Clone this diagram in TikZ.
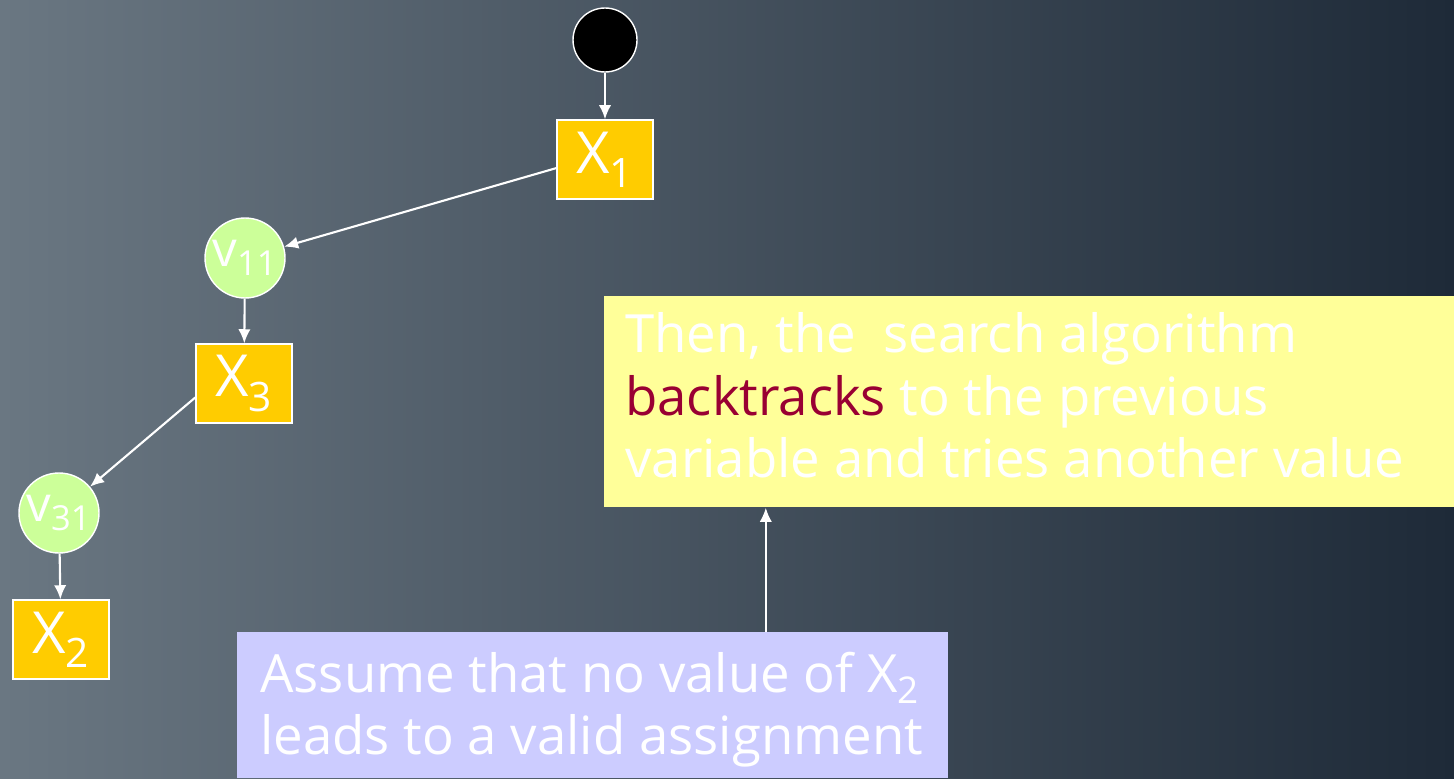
\documentclass[tikz,border=0pt]{standalone}
\usepackage{fontspec}
\setmainfont{Open Sans}
\usetikzlibrary{calc, arrows.meta}
\definecolor{slatelight}{HTML}{6A7782}
\definecolor{slatemid}{HTML}{56636E}
\definecolor{slatedark}{HTML}{1E2A38}
\definecolor{tangerine}{HTML}{FFCC00}
\definecolor{mintgreen}{HTML}{CCFF99}
\definecolor{paleyellow}{HTML}{FFFF99}
\definecolor{lavender}{HTML}{CCCCFF}
\definecolor{claret}{HTML}{990033}

\begin{document}
\begin{tikzpicture}[
            var/.style = {rectangle, draw=white, thick, fill=tangerine, text=white,
                          minimum width=1.92cm, minimum height=1.58cm, font=\fontsize{33}{35}\selectfont},
            val/.style = {circle, draw=white, thick, fill=mintgreen, text=white,
                          minimum size=1.6cm, inner sep=0pt, font=\fontsize{28}{30}\selectfont},
            start/.style = {circle, draw=white, thick, fill=black, minimum size=1.28cm},
            note/.style = {rectangle, anchor=north west, text=white, align=left, inner sep=0pt,
                           font=\fontsize{30}{35.5}\selectfont},
            arr/.style = {white, line width=1.2pt, -{Latex[length=8pt, width=7pt]}},
            ]
            % background
            \shade[left color=slatelight, middle color=slatemid, right color=slatedark]
                (0, 0) rectangle (29.08, -15.56);
            \useasboundingbox (0, 0) rectangle (29.08, -15.56);

            % search tree
            \node[start]    (R)   at (12.1, -0.8) {};
            \node[var]      (X1)  at (12.1, -3.19) {X\textsubscript{1}};
            \node[val]      (V11) at (4.9, -5.16) {v\textsubscript{11}};
            \node[var]      (X3)  at (4.88, -7.67) {X\textsubscript{3}};
            \node[val]      (V31) at (1.18, -10.26) {v\textsubscript{31}};
            \node[var]      (X2)  at (1.22, -12.79) {X\textsubscript{2}};

            % notes
            \node[fill=paleyellow, minimum width=17cm, minimum height=4.22cm, anchor=north west]
                (back) at (12.08, -5.92) {};
            \node[note] at (12.5, -6.25)
                {Then, the\ \ search algorithm\\
                 \textcolor{claret}{backtracks} to the previous\\
                 variable and tries another value};

            \node[fill=lavender, minimum width=14.22cm, minimum height=2.92cm, anchor=north west]
                (ask) at (4.74, -12.64) {};
            \node[note] at (5.2, -13.03)
                {Assume that no value of X\textsubscript{2}\\
                 leads to a valid assignment};

            \coordinate (tail) at ($(ask.north west)!0.743!(ask.north east)$);

            \draw[arr] (R) -- (X1);
            \draw[arr] (X1.190) -- (V11);
            \draw[arr] (V11) -- (X3);
            \draw[arr] (X3.196) -- (V31);
            \draw[arr] (V31) -- (X2);
            \draw[arr] (tail) -- (tail |- back.south);

        \end{tikzpicture}
\end{document}
